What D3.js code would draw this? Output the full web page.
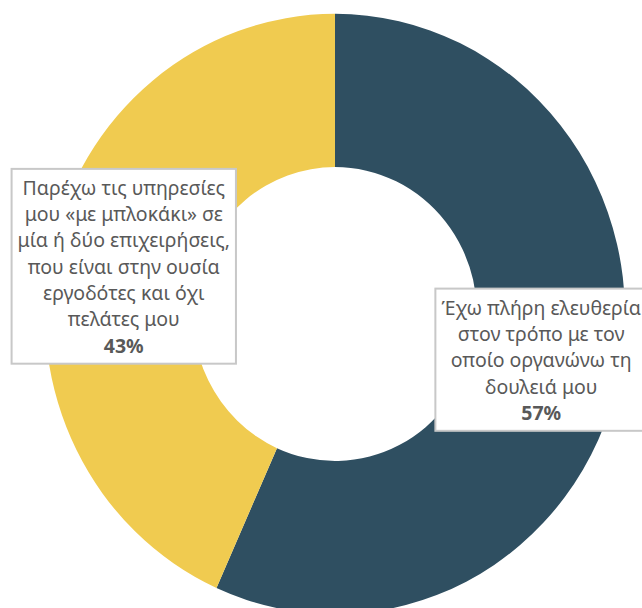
<!DOCTYPE html>
<html>
<head>
<meta charset="utf-8">
<script src="https://cdn.jsdelivr.net/npm/d3@7"></script>
<style>
  html, body { margin: 0; padding: 0; background: #fff; overflow: hidden; }
  .lbl { font-family: "Noto Sans", "Open Sans", sans-serif; font-size: 19.5px; fill: #595959; }
  .lbl .pct { font-weight: bold; }
</style>
</head>
<body>
<div id="chart"></div>
<script>
const categories = ["Έχω πλήρη ελευθερία στον τρόπο με τον οποίο οργανώνω τη δουλειά μου",
  "Παρέχω τις υπηρεσίες μου «με μπλοκάκι» σε μία ή δύο επιχειρήσεις, που είναι στην ουσία εργοδότες και όχι πελάτες μου"]
const labelLines = [
  ["Έχω πλήρη ελευθερία", "στον τρόπο με τον", "οποίο οργανώνω τη", "δουλειά μου"],
  ["Παρέχω τις υπηρεσίες", "μου «με μπλοκάκι» σε", "μία ή δύο επιχειρήσεις,", "που είναι στην ουσία", "εργοδότες και όχι", "πελάτες μου"]
]
const values = [56.7, 43.3]
const pctLabels = ["57%", "43%"]
const colors = ["#2f4f61", "#f0cb50"]

const W = 642, H = 608
const CX = 335, CY = 314
const R_OUT = 290, R_IN = 142
const SY = 1.035   // the original is a touch taller than wide
const LINE_H = 26.3

const svg = d3.select("#chart").append("svg")
  .attr("width", W)
  .attr("height", H)

const data = values.map((v, i) => ({ name: categories[i], value: v, lines: labelLines[i], pct: pctLabels[i], color: colors[i] }))

const pie = d3.pie().sort(null).value(d => d.value)
const arc = d3.arc().innerRadius(R_IN).outerRadius(R_OUT)

const arcs = pie(data)

const g = svg.append("g")
  .attr("transform", `translate(${CX}, ${CY}) scale(1, ${SY})`)

g.selectAll("path.slice")
  .data(arcs)
  .enter()
  .append("path")
  .attr("class", "slice")
  .attr("d", arc)
  .attr("fill", d => d.data.color)

// label boxes sit on the slice centroids, kept inside the page
const labels = svg.append("g")

arcs.forEach(function(d) {
  const c = arc.centroid(d)
  const y = CY + c[1] * SY

  const lg = labels.append("g").attr("class", "lbl")
  const rect = lg.append("rect")
    .attr("fill", "#fff")
    .attr("stroke", "#c8c8c8")
    .attr("stroke-width", 2)

  const lines = d.data.lines.concat([d.data.pct])
  const n = lines.length
  const txt = lg.append("text")
    .attr("text-anchor", "middle")

  const spans = lines.map(function(l, i) {
    return txt.append("tspan")
      .attr("x", 0)
      .attr("y", y + (i - (n - 1) / 2) * LINE_H + 6.5)
      .attr("class", i == n - 1 ? "pct" : null)
      .text(l)
  })

  const tw = txt.node().getBBox().width
  const x = Math.max(tw / 2 + 1, Math.min(CX + c[0], W - tw / 2 - 1))
  spans.forEach(s => s.attr("x", x))

  const bb = txt.node().getBBox()
  const padX = 6, padY = 5
  rect.attr("x", bb.x - padX)
    .attr("y", bb.y - padY)
    .attr("width", bb.width + padX * 2)
    .attr("height", bb.height + padY * 2)
})
</script>
</body>
</html>
